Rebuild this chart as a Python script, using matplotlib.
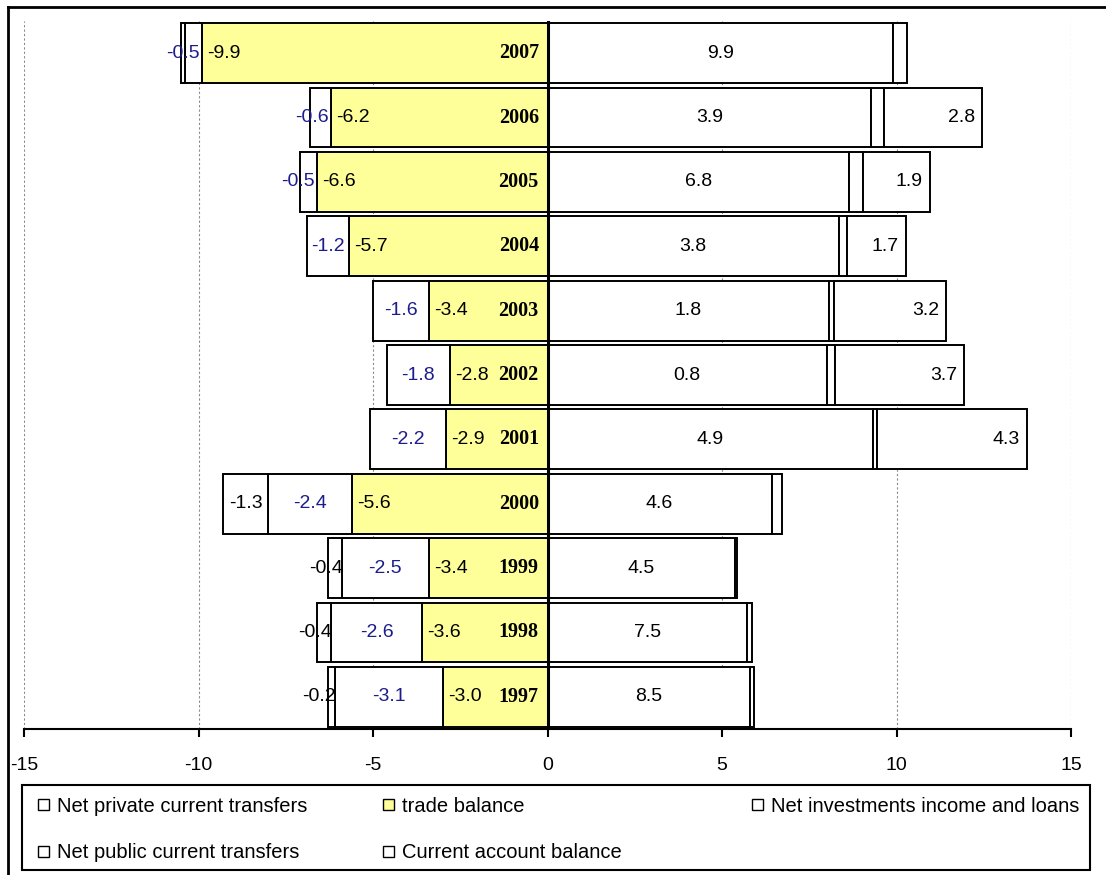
import numpy as np
import matplotlib
matplotlib.use('Agg')
import matplotlib.pyplot as plt
from matplotlib.patches import Rectangle
from matplotlib.lines import Line2D

# balance of payments components, % of GDP
years = [1997, 1998, 1999, 2000, 2001, 2002, 2003, 2004, 2005, 2006, 2007]
private_transfers = [5.79, 5.73, 5.36, 6.42, 9.34, 8.0, 8.08, 8.34, 8.65, 9.28, 9.91]
private_labels = ['8.5', '7.5', '4.5', '4.6', '4.9', '0.8', '1.8', '3.8', '6.8', '3.9', '9.9']
trade_balance = [-3.0, -3.6, -3.4, -5.6, -2.9, -2.8, -3.4, -5.7, -6.6, -6.2, -9.9]
investment_income = [-3.1, -2.6, -2.5, -2.4, -2.2, -1.8, -1.6, -1.2, -0.5, -0.6, -0.5]
public_transfers = [0.12, 0.13, 0.07, 0.3, 0.09, 0.23, 0.14, 0.23, 0.4, 0.37, 0.4]
current_account = [-0.2, -0.4, -0.4, -1.3, 4.3, 3.7, 3.2, 1.7, 1.9, 2.8, -0.1]

plt.rcParams['font.family'] = ['Liberation Sans', 'DejaVu Sans']
plt.rcParams['axes.unicode_minus'] = False
fs = 14

yellow = '#FFFF99'
blue = '#1C1C8C'
W, H = 1106, 875

fig = plt.figure(figsize=(W / 100, H / 100), dpi=100)
ax = fig.add_axes([24 / W, 1 - 729 / H, 1047 / W, 708 / H])

y = np.arange(len(years))
h = 0.93
series = [
    ('Net private current transfers', private_transfers, 'white'),
    ('trade balance', trade_balance, yellow),
    ('Net investments income and loans', investment_income, 'white'),
    ('Net public current transfers', public_transfers, 'white'),
    ('Current account balance', current_account, 'white'),
]

# stack positives to the right and negatives to the left, in series order
pos = np.zeros(len(years))
neg = np.zeros(len(years))
segs = {}
for name, vals, color in series:
    vals = np.array(vals)
    left = np.where(vals >= 0, pos, neg)
    ax.barh(y, vals, height=h, left=left, color=color, edgecolor='black',
            linewidth=1.4, zorder=3)
    segs[name] = (left, left + vals)
    pos = np.where(vals >= 0, pos + vals, pos)
    neg = np.where(vals < 0, neg + vals, neg)

for i, yr in enumerate(years):
    # private transfers
    a, b = segs['Net private current transfers'][0][i], segs['Net private current transfers'][1][i]
    ax.text((a + b) / 2, y[i], private_labels[i], ha='center', va='center',
            fontsize=fs, zorder=5)
    # trade balance
    ax.text(trade_balance[i] + 0.15, y[i], f'{trade_balance[i]:.1f}', ha='left',
            va='center', fontsize=fs, zorder=5)
    ax.text(-0.25, y[i], str(yr), ha='right', va='center', fontsize=14.5,
            family='Liberation Serif', fontweight='bold', zorder=5)
    # investment income
    a, b = segs['Net investments income and loans'][0][i], segs['Net investments income and loans'][1][i]
    lo, hi = min(a, b), max(a, b)
    ax.text(min((lo + hi) / 2, hi - 0.55), y[i], f'{investment_income[i]:.1f}',
            ha='center', va='center', color=blue, fontsize=fs, zorder=5)
    # current account
    v = current_account[i]
    a, b = segs['Current account balance'][0][i], segs['Current account balance'][1][i]
    if v > 0:
        ax.text(b - 0.2, y[i], f'{v:.1f}', ha='right', va='center', fontsize=fs, zorder=5)
    elif v <= -0.15:
        lo, hi = b, a
        ax.text(min((lo + hi) / 2, hi - 0.45), y[i], f'{v:.1f}', ha='center',
                va='center', fontsize=fs, zorder=5)

ax.axvline(0, color='black', linewidth=2.2, zorder=4)
ax.set_xlim(-15, 15)
ax.set_ylim(-0.5, len(years) - 0.5)
ax.set_xticks(np.arange(-15, 16, 5))
ax.set_yticks([])
ax.xaxis.grid(True, color='#8a8a8a', linestyle=(0, (2, 2)), linewidth=0.8, zorder=0)
for s in ['left', 'right', 'top']:
    ax.spines[s].set_visible(False)
ax.spines['bottom'].set_linewidth(1.5)
ax.tick_params(axis='x', direction='out', length=6, width=1.5, labelsize=fs, pad=14)

# chart area border (top and left)
fig.add_artist(Line2D([8 / W, 1], [1 - 7 / H] * 2, transform=fig.transFigure,
                      color='black', linewidth=2))
fig.add_artist(Line2D([8 / W] * 2, [0, 1 - 7 / H], transform=fig.transFigure,
                      color='black', linewidth=2))

# legend box, three columns laid out like the spreadsheet legend
fig.add_artist(Rectangle((22 / W, 1 - 870 / H), 1068 / W, 85 / H, transform=fig.transFigure,
                         fill=False, edgecolor='black', linewidth=1.5))
slots = [(38, 804), (383, 804), (752, 804), (38, 851), (383, 851)]
for (name, _, color), (px, py) in zip(series, slots):
    fig.add_artist(Rectangle((px / W, 1 - (py + 5.5) / H), 11 / W, 11 / H,
                             transform=fig.transFigure, facecolor=color,
                             edgecolor='black', linewidth=1))
    fig.text((px + 19) / W, 1 - py / H, name, ha='left', va='center_baseline',
             fontsize=14.5)

plt.savefig('out.png', dpi=100)
